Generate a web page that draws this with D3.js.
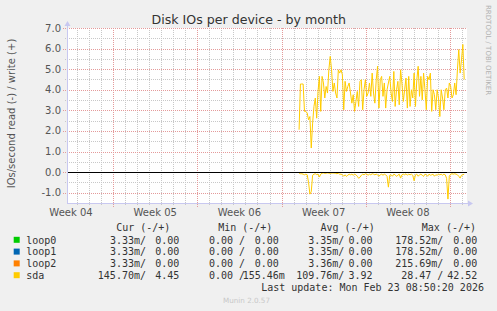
<!DOCTYPE html>
<html><head><meta charset="utf-8">
<script src="https://cdn.jsdelivr.net/npm/d3@7"></script>
<style>
html,body{margin:0;padding:0;background:#F0F0F0;overflow:hidden}
text{white-space:pre}
</style>
</head><body>
<svg id="chart" width="497" height="311"></svg>
<script>
// ---------------- data ----------------
const yMajorTicks = [-1, 0, 1, 2, 3, 4, 5, 6, 7];
const yMinorTicks = [-0.5, 0.5, 1.5, 2.5, 3.5, 4.5, 5.5, 6.5];
const yTickLabels = ["-1.0", "0.0", "1.0", "2.0", "3.0", "4.0", "5.0", "6.0", "7.0"];
const weekLabels = ["Week 04", "Week 05", "Week 06", "Week 07", "Week 08"];
const weekStarts = ["2026-01-19", "2026-01-26", "2026-02-02", "2026-02-09", "2026-02-16", "2026-02-23"];
const timeStart = "2026-01-22T04:00:00Z";
const timeEnd = "2026-02-24T10:00:00Z";

const seriesNames = ["loop0", "loop1", "loop2", "sda"];
const seriesColors = ["#00CC00", "#0066B3", "#FF8000", "#FFCC00"];

// loop devices: read ~3.3m, write 0 across the period
const loopTimes = ["2026-01-22T04:00:00Z", "2026-02-24T10:00:00Z"];
const loop0Read = [0.00335, 0.00333];
const loop1Read = [0.00335, 0.00333];
const loop2Read = [0.00336, 0.00333];

// sda samples (from 2026-02-10 11:00 UTC, every 2.7 h)
const sdaStart = "2026-02-10T11:00:00Z";
const sdaStepHours = 2.7;
const sdaWrite = [2.06,4.28,4.28,4.28,2.95,2.95,2.87,2.54,2.7,1.17,
  2.38,3.19,3.6,2.62,3.92,4.65,2.95,4.65,4.33,3.6,
  4.16,3.84,4.97,5.62,4.97,3.92,4.33,3.84,3.6,4.97,
  4.81,4.97,4.73,3.03,4.41,3.92,4.16,4.33,3.84,3.35,
  3.76,2.95,3.43,3.92,3.19,4.41,4.49,3.03,4.0,4.49,
  3.68,3.84,4.33,3.68,4.81,3.84,3.35,4.49,5.14,3.11,
  4.49,4.65,3.68,4.33,3.11,4.0,4.33,4.65,3.84,3.43,
  4.89,3.19,4.0,4.41,3.27,4.97,4.33,3.43,4.0,4.57,
  3.11,4.65,
  3.19,4.0,3.6,4.81,3.19,4.49,5.14,3.68,4.65,3.51,
  4.81,4.0,3.03,4.65,4.49,4.81,2.95,4.0,3.76,3.03,
  4.0,3.6,2.7,4.0,3.6,3.03,4.0,4.08,3.6,4.33,
  4.16,3.6,3.76,4.33,3.76,4.97,5.95,4.81,5.45,6.2,4.5];
const sdaRead = [0.05,0.08,0.08,0.1,0.13,0.1,0.13,0.5,1.07,0.95,
  0.15,0.1,0.08,0.12,0.1,0.24,0.1,0.05,0.04,0.06,
  0.05,0.04,0.05,0.06,0.05,0.04,0.05,0.06,0.08,0.05,
  0.1,0.1,0.13,0.2,0.13,0.21,0.15,0.1,0.13,0.1,
  0.15,0.1,0.13,0.2,0.3,0.25,0.15,0.1,0.13,0.08,
  0.1,0.15,0.1,0.13,0.08,0.1,0.13,0.1,0.13,0.2,
  0.13,0.1,0.15,0.1,0.13,0.2,0.73,0.15,0.13,0.2,
  0.1,0.13,0.21,0.15,0.1,0.29,0.13,0.1,0.13,0.08,
  0.15,0.1,0.13,0.1,0.15,0.42,0.13,0.1,0.2,0.13,
  0.1,0.15,0.21,0.1,0.13,0.2,0.1,0.15,0.13,0.1,
  0.2,0.13,0.15,0.1,0.13,0.1,0.15,0.1,0.13,0.3,
  1.31,0.2,0.1,0.08,0.1,0.08,0.1,0.13,0.2,0.29,
  0.15,0.13,0.1];

// legend table
const colHeaders = ["Cur (-/+)", "Min (-/+)", "Avg (-/+)", "Max (-/+)"];
const curRead  = ["3.33m", "3.33m", "3.33m", "145.70m"];
const curWrite = ["0.00", "0.00", "0.00", "4.45"];
const minRead  = ["0.00", "0.00", "0.00", "0.00"];
const minWrite = ["0.00", "0.00", "0.00", "155.46m"];
const avgRead  = ["3.35m", "3.35m", "3.36m", "109.76m"];
const avgWrite = ["0.00", "0.00", "0.00", "3.92"];
const maxRead  = ["178.52m", "178.52m", "215.69m", "28.47"];
const maxWrite = ["0.00", "0.00", "0.00", "42.52"];
const titleText = "Disk IOs per device - by month";
const yAxisTitle = "IOs/second read (-) / write (+)";
const lastUpdate = "Last update: Mon Feb 23 08:50:20 2026";
const muninVersion = "Munin 2.0.57";
const watermark = "RRDTOOL / TOBI OETIKER";

// ---------------- drawing ----------------
const svg = d3.select("#chart");
const L = 67, R = 467, T = 28, B = 203;
const x = d3.scaleUtc().domain([new Date(timeStart), new Date(timeEnd)]).range([L, R]);
const y = d3.scaleLinear().domain([-1.5, 7]).range([B, T]);
const px = v => Math.round(v) + 0.5;

svg.append("rect").attr("width", 497).attr("height", 311).attr("fill", "#F0F0F0");
svg.append("rect").attr("x", L).attr("y", T).attr("width", R - L).attr("height", B - T).attr("fill", "#FFFFFF");

const grid = svg.append("g");
// minor horizontal
grid.selectAll(".hmin").data(yMinorTicks).join("line")
  .attr("x1", L - 2).attr("x2", R).attr("y1", d => px(y(d))).attr("y2", d => px(y(d)))
  .attr("stroke", "#C8C8C8").attr("stroke-dasharray", "1,1");
// minor vertical (days)
const weekStartDates = weekStarts.map(s => new Date(s + "T00:00:00Z"));
const days = d3.utcDay.range(new Date(timeStart), new Date(timeEnd))
  .filter(d => !weekStartDates.some(w => +w === +d));
grid.selectAll(".vmin").data(days).join("line")
  .attr("x1", d => px(x(d))).attr("x2", d => px(x(d))).attr("y1", T).attr("y2", B + 2)
  .attr("stroke", "#C8C8C8").attr("stroke-dasharray", "1,1");
// major horizontal
grid.selectAll(".hmaj").data(yMajorTicks).join("line")
  .attr("x1", L - 4).attr("x2", R).attr("y1", d => px(y(d))).attr("y2", d => px(y(d)))
  .attr("stroke", "#E49A9A").attr("stroke-dasharray", "1,1");
// major vertical (weeks)
const majorWeeks = weekStartDates.filter(d => d >= x.domain()[0] && d <= x.domain()[1]);
grid.selectAll(".vmaj").data(majorWeeks).join("line")
  .attr("x1", d => px(x(d))).attr("x2", d => px(x(d))).attr("y1", T).attr("y2", B + 4)
  .attr("stroke", "#E49A9A").attr("stroke-dasharray", "1,1");

// y tick labels
svg.append("g").selectAll("text").data(yMajorTicks).join("text")
  .attr("x", 61).attr("y", d => y(d) + 3.5).attr("text-anchor", "end")
  .attr("font-family", "DejaVu Sans").attr("font-size", 10).attr("fill", "#555")
  .text((d, i) => yTickLabels[i]);

// week labels, centered in each week
svg.append("g").selectAll("text").data(weekLabels).join("text")
  .attr("x", (d, i) => x(new Date(+weekStartDates[i] + 3.5 * 864e5)))
  .attr("y", 215.5).attr("text-anchor", "middle")
  .attr("font-family", "DejaVu Sans").attr("font-size", 10).attr("fill", "#555")
  .text(d => d);

// series lines
const lineGen = d3.line().x(d => x(d.t)).y(d => y(d.v));
const loopReads = [loop0Read, loop1Read, loop2Read];
loopReads.forEach((arr, k) => {
  const pts = arr.map((v, i) => ({ t: new Date(loopTimes[i]), v: -v }));
  svg.append("path").attr("d", lineGen(pts)).attr("fill", "none")
    .attr("stroke", seriesColors[k]).attr("stroke-width", 1).attr("shape-rendering", "crispEdges");
});
const sdaT0 = +new Date(sdaStart);
const sdaW = sdaWrite.map((v, i) => ({ t: new Date(sdaT0 + i * sdaStepHours * 36e5), v: v }));
const sdaR = sdaRead.map((v, i) => ({ t: new Date(sdaT0 + i * sdaStepHours * 36e5), v: -v }));
svg.append("path").attr("d", lineGen(sdaR)).attr("fill", "none").attr("stroke", seriesColors[3]).attr("stroke-width", 1);
svg.append("path").attr("d", lineGen(sdaW)).attr("fill", "none").attr("stroke", seriesColors[3]).attr("stroke-width", 1);

// zero rule
svg.append("line").attr("x1", L).attr("x2", R).attr("y1", px(y(0))).attr("y2", px(y(0)))
  .attr("stroke", "#000").attr("stroke-width", 1);

// axes with arrows
const axisColor = "#C8C8F0";
svg.append("line").attr("x1", L + 0.5).attr("x2", L + 0.5).attr("y1", 24).attr("y2", B + 0.5).attr("stroke", axisColor);
svg.append("line").attr("x1", L).attr("x2", 470).attr("y1", B + 0.5).attr("y2", B + 0.5).attr("stroke", axisColor);
svg.append("path").attr("d", `M${L - 2.5},26 L${L + 3.5},26 L${L + 0.5},21 Z`).attr("fill", axisColor);
svg.append("path").attr("d", `M468,${B - 2.5} L468,${B + 3.5} L473,${B + 0.5} Z`).attr("fill", axisColor);

// title
svg.append("text").attr("x", 248.7).attr("y", 24).attr("text-anchor", "middle")
  .attr("font-family", "DejaVu Sans").attr("font-size", 12.6).attr("fill", "#333").text(titleText);
// y axis title
svg.append("text").attr("transform", "translate(14.5,113.5) rotate(-90)").attr("text-anchor", "middle")
  .attr("font-family", "DejaVu Sans").attr("font-size", 10).attr("fill", "#555").text(yAxisTitle);
// watermark
svg.append("text").attr("transform", "translate(485.5,5) rotate(90)").attr("text-anchor", "start")
  .attr("font-family", "DejaVu Sans").attr("font-size", 7).attr("fill", "#B0B0B0").text(watermark);

// legend
const mono = "DejaVu Sans Mono";
const lg = svg.append("g").attr("font-family", mono).attr("font-size", 10).attr("fill", "#333");
const headerX = [116.2, 218.2, 320.5, 421.8];
colHeaders.forEach((h, i) => lg.append("text").attr("x", headerX[i]).attr("y", 231.3).text(h));
function splitNum(s) { const m = s.match(/^([\d.]+)(m?)$/); return [m[1], m[2] || ""]; }
// read part: "<num><suffix or space>/", right-aligned at the slash end
function readText(s) { const [n, u] = splitNum(s); return n + (u || " ") + "/"; }
const readCols = [curRead, minRead, avgRead, maxRead];
const writeCols = [curWrite, minWrite, avgWrite, maxWrite];
const readEndX = [146.0, 245.0, 344.4, 443.4];
const writeNumEndX = [179.3, 278.9, 372.6, 477.3];
const charW = 6.02;
seriesNames.forEach((name, r) => {
  const by = 243.5 + r * 11.8;
  lg.append("rect").attr("x", 13.7).attr("y", by - 6.7).attr("width", 6).attr("height", 6).attr("fill", seriesColors[r]);
  lg.append("text").attr("x", 26.2).attr("y", by).text(name);
  readCols.forEach((col, c) => lg.append("text").attr("x", readEndX[c]).attr("y", by)
    .attr("text-anchor", "end").text(readText(col[r])));
  writeCols.forEach((col, c) => {
    const [n, u] = splitNum(col[r]);
    lg.append("text").attr("x", writeNumEndX[c] + (u ? charW : 0)).attr("y", by)
      .attr("text-anchor", "end").text(n + u);
  });
});
lg.append("text").attr("x", 261.2).attr("y", 291.3).text(lastUpdate);
svg.append("text").attr("x", 223).attr("y", 302.5).attr("font-family", "DejaVu Sans").attr("font-size", 7.2)
  .attr("fill", "#C8C8C8").text(muninVersion);
</script>
</body></html>
